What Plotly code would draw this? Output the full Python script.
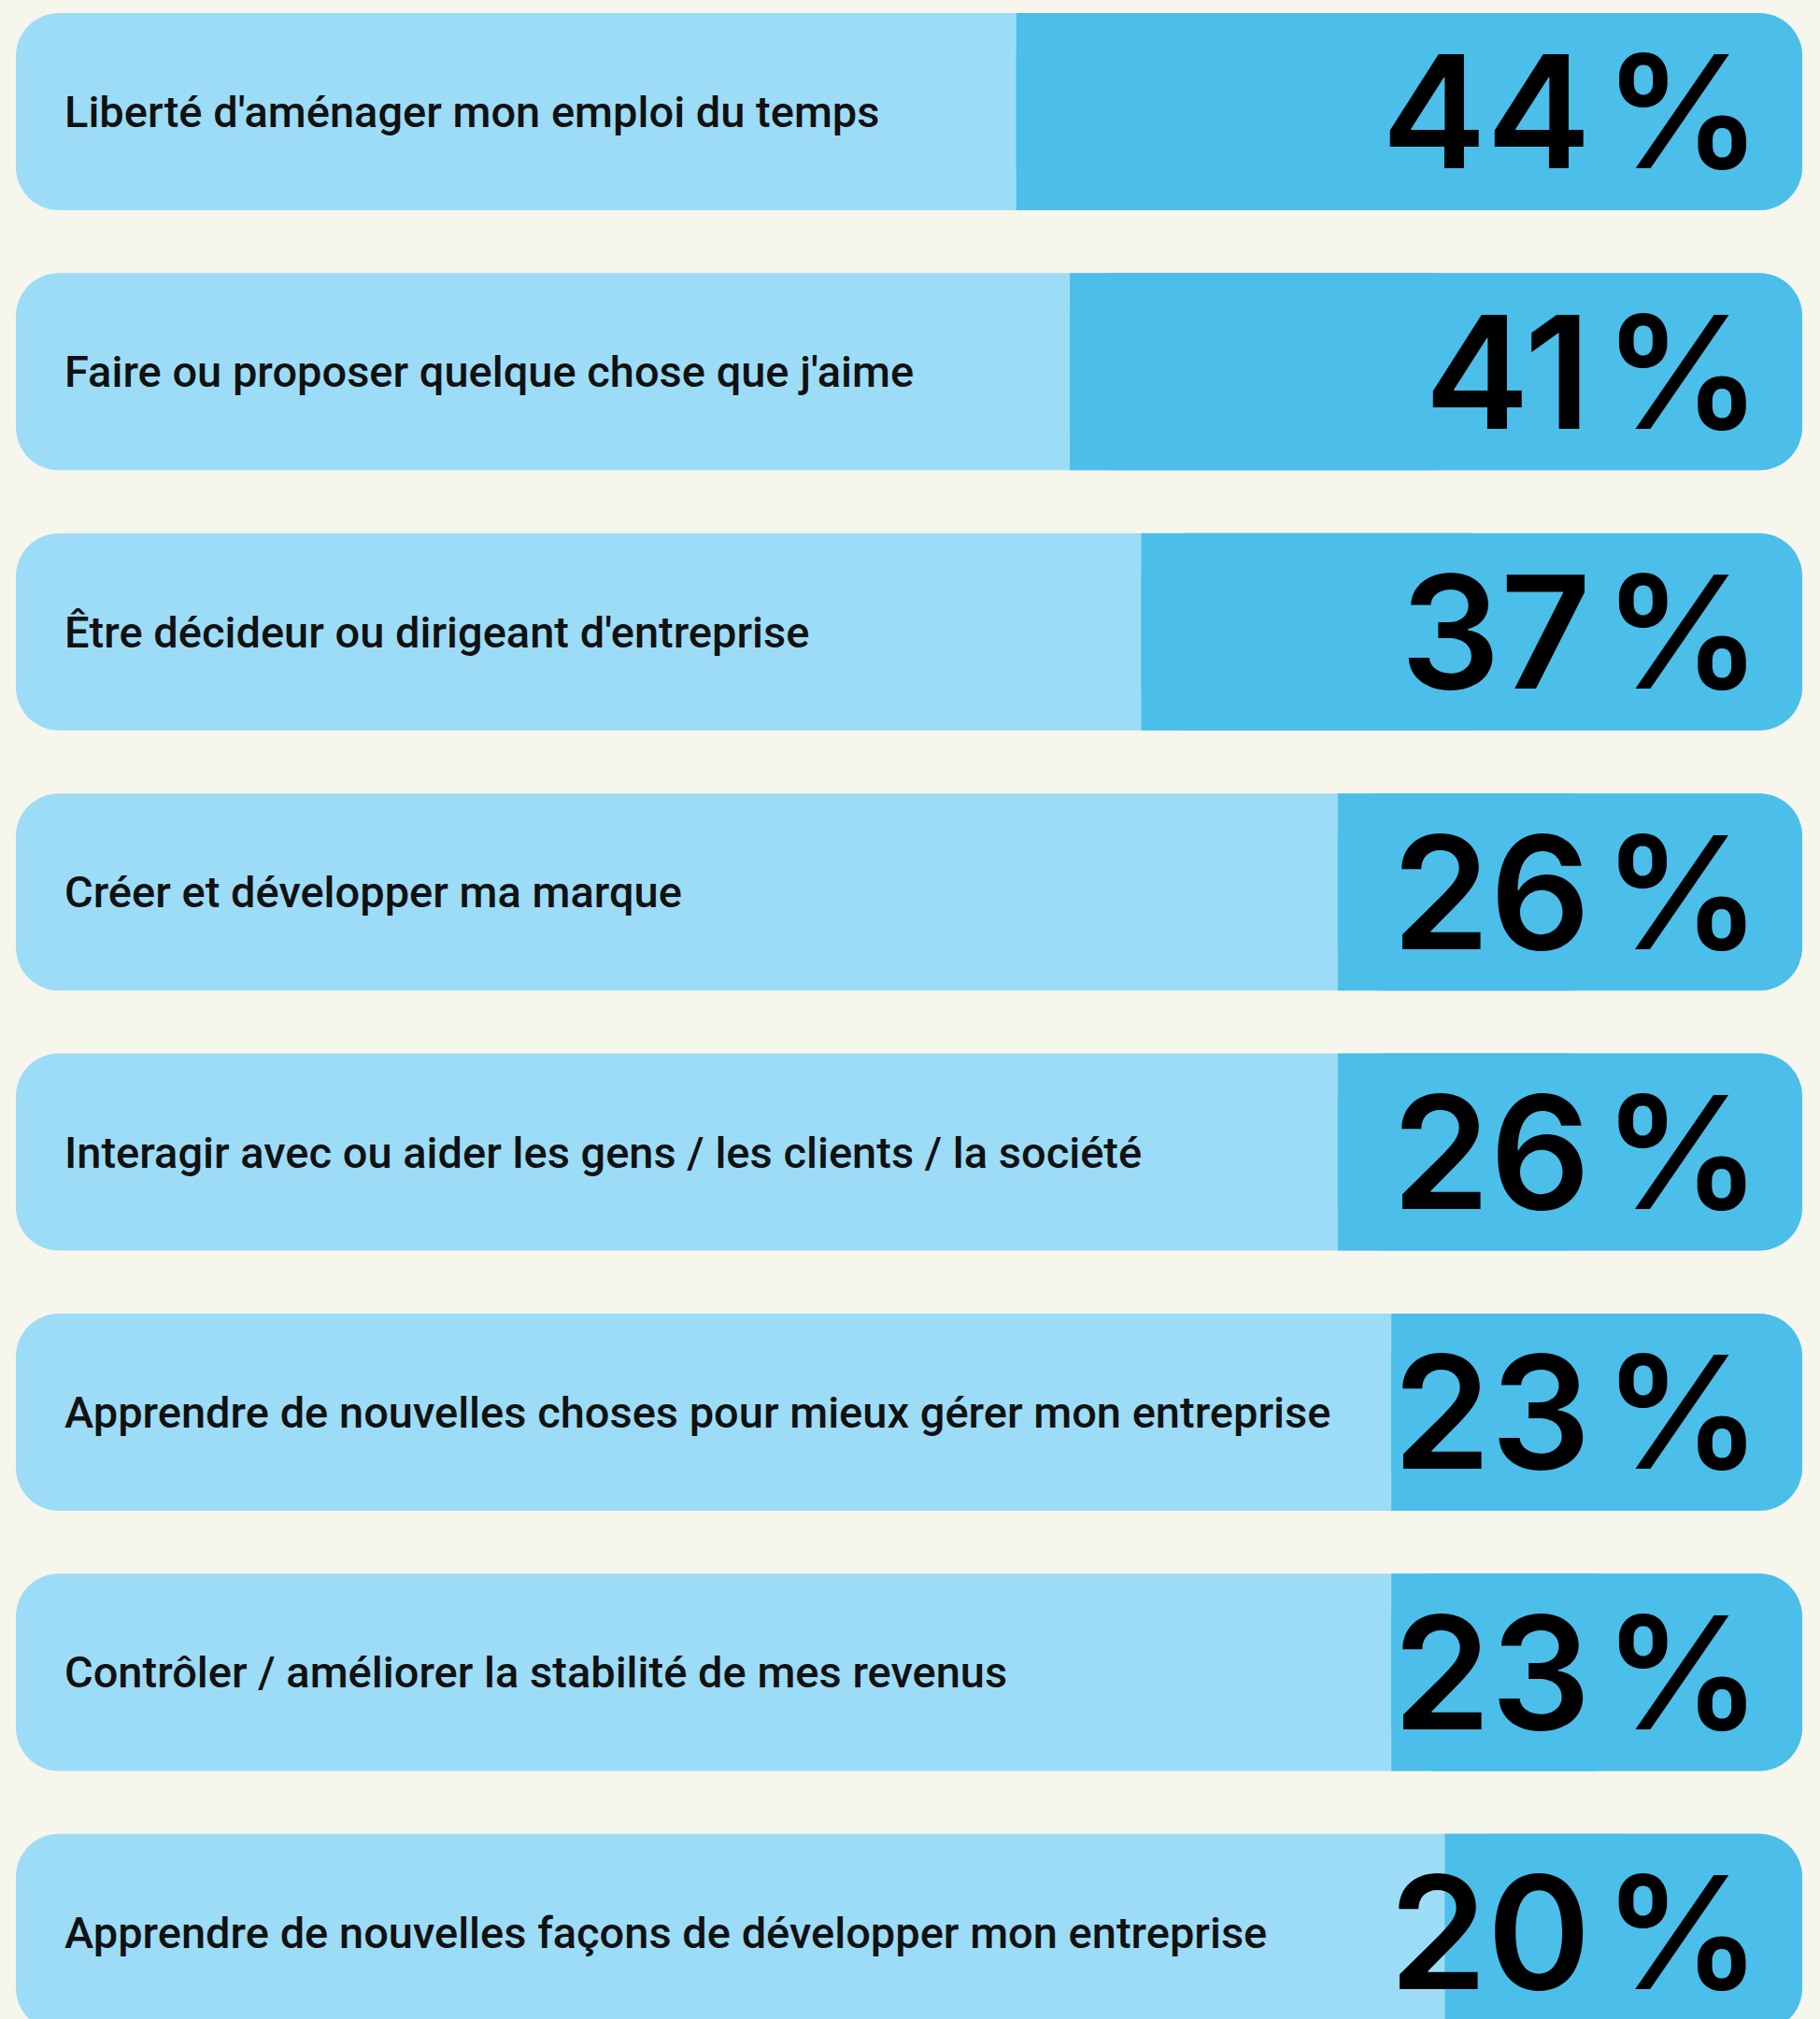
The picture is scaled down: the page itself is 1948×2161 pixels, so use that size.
import plotly.graph_objects as go

# Data
labels = [
    "Liberté d'aménager mon emploi du temps",
    "Faire ou proposer quelque chose que j'aime",
    "Être décideur ou dirigeant d'entreprise",
    "Créer et développer ma marque",
    "Interagir avec ou aider les gens / les clients / la société",
    "Apprendre de nouvelles choses pour mieux gérer mon entreprise",
    "Contrôler / améliorer la stabilité de mes revenus",
    "Apprendre de nouvelles façons de développer mon entreprise",
]
values = [44, 41, 37, 26, 26, 23, 23, 20]
pct_labels = [f"{v}\u200a%" for v in values]

LIGHT = "#9DDCF7"
DARK = "#4BBEEA"
BG = "#F6F6EC"

total = 100
rest = [total - v for v in values]

fig = go.Figure()

# full light track, rounded on both ends (explicit base -> all corners rounded)
fig.add_trace(go.Bar(
    y=labels, x=[total] * len(labels), base=[0] * len(labels),
    orientation="h", width=0.758,
    marker=dict(color=LIGHT, cornerradius=46, line=dict(width=0)),
    hoverinfo="skip",
))
# dark share, rounded on the right end
fig.add_trace(go.Bar(
    y=labels, x=values, base=rest,
    orientation="h", width=0.758,
    marker=dict(color=DARK, cornerradius=46, line=dict(width=0)),
    hoverinfo="skip",
))
# square piece over the left half of the dark share so the split edge stays straight
fig.add_trace(go.Bar(
    y=labels, x=[v / 2 for v in values], base=rest,
    orientation="h", width=0.758,
    marker=dict(color=DARK, cornerradius=0, line=dict(width=0)),
    hoverinfo="skip",
))

# category labels inside the bars, on the left
for lab in labels:
    fig.add_annotation(
        x=0, y=lab, xref="x", yref="y",
        text=lab, showarrow=False,
        xanchor="left", yanchor="middle", xshift=50,
        font=dict(family="Roboto", size=47, color="#111111", weight=500),
    )

# big percentage on the right
for lab, txt in zip(labels, pct_labels):
    fig.add_annotation(
        x=total, y=lab, xref="x", yref="y",
        text=txt, showarrow=False,
        xanchor="right", yanchor="middle", xshift=-42,
        font=dict(family="Inter", size=168, color="#000000", weight=600),
    )

fig.update_layout(
    width=1948,
    height=2161,
    margin=dict(l=0, r=0, t=0, b=0),
    paper_bgcolor=BG,
    plot_bgcolor=BG,
    barmode="overlay",
    showlegend=False,
    xaxis=dict(range=[-0.889, 100.994], visible=False, fixedrange=True),
    yaxis=dict(range=[7.333, -0.429], visible=False, fixedrange=True),
)

fig.write_html(
    "out.html",
    config={"displayModeBar": False},
    post_script="document.body.style.margin='0';document.body.style.background='#F6F6EC';",
)
